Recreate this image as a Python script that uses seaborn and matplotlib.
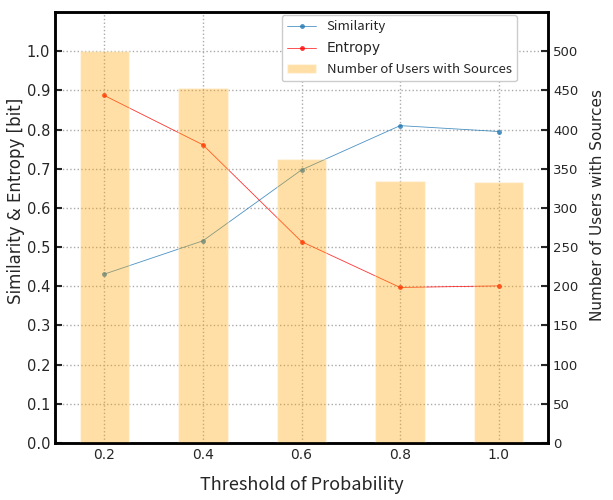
import numpy as np
import pandas as pd
import matplotlib
matplotlib.use("Agg")
import matplotlib.pyplot as plt
import seaborn as sns

# values
thresholds = [0.2, 0.4, 0.6, 0.8, 1.0]
similarity = [0.431, 0.516, 0.697, 0.810, 0.795]
entropy = [0.887, 0.761, 0.514, 0.397, 0.401]
n_users = [500, 453, 362, 334, 333]

sns.set_style("white")
plt.rcParams['font.family'] = ['DejaVu Sans']
jp = ['Noto Sans CJK JP', 'DejaVu Sans']

df = pd.DataFrame({"threshold": thresholds, "similarity": similarity,
                   "entropy": entropy, "users": n_users})

fig = plt.figure(figsize=(6.13, 5.0), dpi=100)
ax = fig.add_axes([0.0897, 0.114, 0.8043, 0.862])
ax2 = ax.twinx()

# lines on the left axis
sns.lineplot(data=df, x="threshold", y="similarity", ax=ax, color="#1f77b4",
             marker="o", markersize=3.5, markeredgewidth=0, linewidth=0.6,
             label="Similarity")
sns.lineplot(data=df, x="threshold", y="entropy", ax=ax, color="red",
             marker="o", markersize=3.5, markeredgewidth=0, linewidth=0.6,
             label="Entropy")
for ln in ax.lines:
    ln.set_alpha(0.8)

# bars on the right axis
sns.barplot(data=df, x="threshold", y="users", ax=ax2, native_scale=True,
            width=0.5, color="orange", alpha=0.35, saturation=1,
            label="Number of Users with Sources")

ax.set_xlim(0.1, 1.1)
ax.set_ylim(0, 1.1)
ax2.set_ylim(0, 550)
ax.set_xticks(thresholds)
ax.set_yticks(np.arange(0, 1.01, 0.1))
ax2.set_yticks(np.arange(0, 501, 50))
ax.set_xticklabels([f"{t:.1f}" for t in thresholds], fontsize=10)
ax.set_yticklabels([f"{v:.1f}" for v in np.arange(0, 1.01, 0.1)], fontsize=10.5)
ax2.set_yticklabels([str(v) for v in range(0, 501, 50)], fontsize=9.5)

ax.grid(True, linestyle=":", color="#aaaaaa", linewidth=1)
ax.tick_params(direction="in", length=5, width=1.5)
ax2.tick_params(direction="in", length=5, width=1.5)
for a in (ax, ax2):
    for sp in a.spines.values():
        sp.set_linewidth(1.8)
        sp.set_color("black")

ax.set_xlabel("Threshold of Probability", fontsize=13, labelpad=10, family=jp)
ax.set_ylabel("Similarity & Entropy [bit]", fontsize=12)
ax2.set_ylabel("Number of Users with Sources", fontsize=11)
ax.yaxis.set_label_coords(-0.061, 0.561)
ax2.yaxis.set_label_coords(1.085, 0.552)

# combined legend
h1, l1 = ax.get_legend_handles_labels()
h2, l2 = ax2.get_legend_handles_labels()
if ax.get_legend():
    ax.get_legend().remove()
if ax2.get_legend():
    ax2.get_legend().remove()
leg = ax2.legend(h1 + h2, l1 + l2, loc="upper right", bbox_to_anchor=(0.937, 0.993),
                 borderaxespad=0, prop={"family": jp, "size": 9.5}, framealpha=1,
                 edgecolor="#cccccc", fancybox=True, labelspacing=0.6, handlelength=2.2)
leg.get_texts()[1].set_fontfamily("DejaVu Sans")
leg.get_texts()[1].set_fontsize(10)

fig.savefig("out.png", dpi=100)
